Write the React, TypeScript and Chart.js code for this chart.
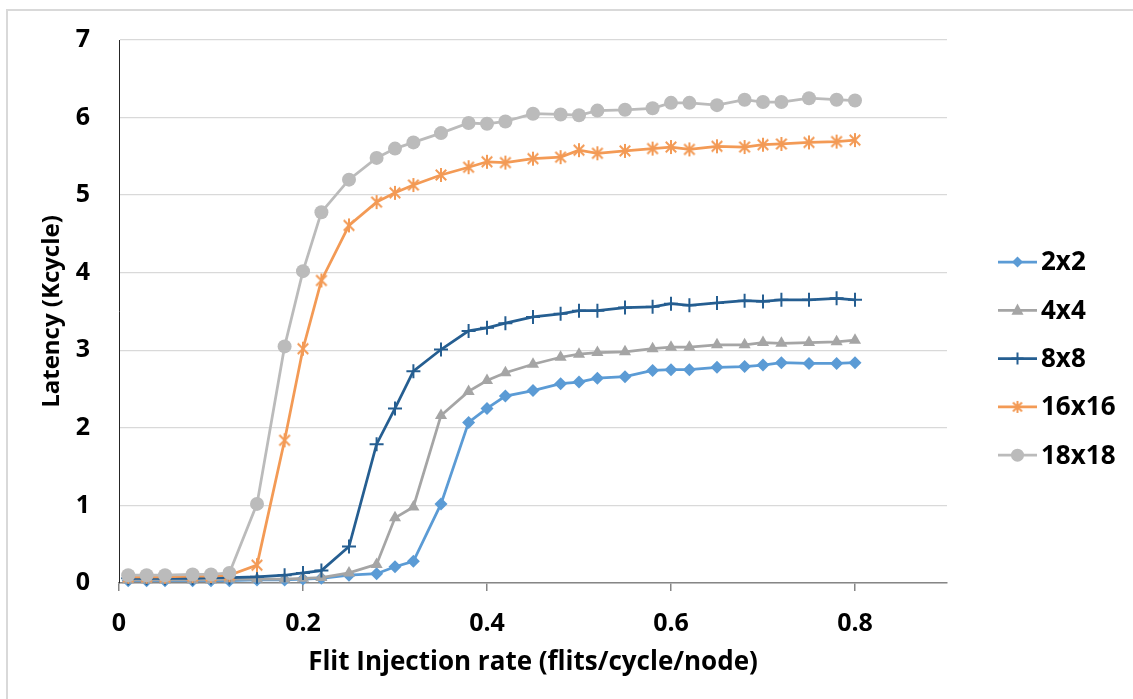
import React, { useEffect, useRef } from 'react';
import { Chart, registerables } from 'chart.js';

Chart.register(...registerables);

const FONT = "'Open Sans', 'DejaVu Sans', sans-serif";

const seriesNames = ['2x2', '4x4', '8x8', '16x16', '18x18'];
const seriesColors = ['#5B9BD5', '#A5A5A5', '#255E91', '#F39A55', '#BBBBBB'];

const injectionRates = [0.01, 0.03, 0.05, 0.08, 0.1, 0.12, 0.15, 0.18, 0.2, 0.22, 0.25, 0.28, 0.3, 0.32, 0.35, 0.38, 0.4, 0.42, 0.45, 0.48, 0.5, 0.52, 0.55, 0.58, 0.6, 0.62, 0.65, 0.68, 0.7, 0.72, 0.75, 0.78, 0.8];

const latency2x2 = [0.03, 0.03, 0.03, 0.03, 0.03, 0.03, 0.04, 0.04, 0.05, 0.06, 0.1, 0.12, 0.21, 0.28, 1.02, 2.07, 2.25, 2.41, 2.48, 2.57, 2.59, 2.64, 2.66, 2.74, 2.75, 2.75, 2.78, 2.79, 2.81, 2.84, 2.83, 2.83, 2.84];
const latency4x4 = [0.04, 0.04, 0.04, 0.04, 0.04, 0.05, 0.05, 0.05, 0.06, 0.07, 0.13, 0.24, 0.84, 0.98, 2.16, 2.47, 2.61, 2.71, 2.82, 2.91, 2.95, 2.97, 2.98, 3.02, 3.04, 3.04, 3.07, 3.07, 3.1, 3.09, 3.1, 3.11, 3.13];
const latency8x8 = [0.06, 0.06, 0.06, 0.06, 0.07, 0.07, 0.08, 0.1, 0.13, 0.16, 0.47, 1.79, 2.25, 2.73, 3.01, 3.25, 3.29, 3.35, 3.43, 3.47, 3.51, 3.51, 3.55, 3.56, 3.6, 3.58, 3.61, 3.64, 3.63, 3.65, 3.65, 3.67, 3.65];
const latency16x16 = [0.08, 0.08, 0.08, 0.09, 0.09, 0.1, 0.23, 1.84, 3.02, 3.9, 4.61, 4.91, 5.03, 5.13, 5.26, 5.36, 5.43, 5.42, 5.47, 5.49, 5.58, 5.54, 5.57, 5.6, 5.62, 5.59, 5.63, 5.62, 5.65, 5.66, 5.68, 5.69, 5.71];
const latency18x18 = [0.1, 0.1, 0.1, 0.11, 0.11, 0.13, 1.02, 3.05, 4.02, 4.78, 5.2, 5.48, 5.6, 5.68, 5.8, 5.93, 5.92, 5.95, 6.05, 6.04, 6.03, 6.09, 6.1, 6.12, 6.19, 6.19, 6.16, 6.23, 6.2, 6.2, 6.25, 6.23, 6.22];

const seriesValues = [latency2x2, latency4x4, latency8x8, latency16x16, latency18x18];

const xAxisTitle = 'Flit Injection rate (flits/cycle/node)';
const yAxisTitle = 'Latency (Kcycle)';

function makeAsterisk(color: string, r: number, lw: number) {
  const size = Math.ceil(r * 2 + 4);
  const c = document.createElement('canvas');
  c.width = size;
  c.height = size;
  const g = c.getContext('2d')!;
  g.strokeStyle = color;
  g.lineWidth = lw;
  const m = size / 2;
  const d = r * 0.75;
  g.beginPath();
  g.moveTo(m, m - r);
  g.lineTo(m, m + r);
  g.moveTo(m - d, m - d);
  g.lineTo(m + d, m + d);
  g.moveTo(m - d, m + d);
  g.lineTo(m + d, m - d);
  g.stroke();
  return c;
}

function drawMarker(ctx: CanvasRenderingContext2D, style: any, x: number, y: number, r: number, color: string) {
  ctx.save();
  ctx.fillStyle = color;
  ctx.strokeStyle = color;
  ctx.lineWidth = 2;
  if (style === 'circle') {
    ctx.beginPath();
    ctx.arc(x, y, r, 0, Math.PI * 2);
    ctx.fill();
  } else if (style === 'triangle') {
    ctx.beginPath();
    ctx.moveTo(x, y - r * 1.15);
    ctx.lineTo(x + r, y + r * 0.75);
    ctx.lineTo(x - r, y + r * 0.75);
    ctx.closePath();
    ctx.fill();
  } else if (style === 'rectRot') {
    ctx.beginPath();
    ctx.moveTo(x, y - r);
    ctx.lineTo(x + r, y);
    ctx.lineTo(x, y + r);
    ctx.lineTo(x - r, y);
    ctx.closePath();
    ctx.fill();
  } else if (style === 'cross') {
    ctx.beginPath();
    ctx.moveTo(x, y - r);
    ctx.lineTo(x, y + r);
    ctx.moveTo(x - r, y);
    ctx.lineTo(x + r, y);
    ctx.stroke();
  } else if (style instanceof HTMLCanvasElement) {
    ctx.drawImage(style, x - style.width / 2, y - style.height / 2);
  }
  ctx.restore();
}

const framePlugin = {
  id: 'frame',
  beforeDraw(chart: any) {
    const ctx = chart.ctx;
    ctx.save();
    ctx.fillStyle = '#ffffff';
    ctx.fillRect(0, 0, chart.width, chart.height);
    ctx.strokeStyle = '#D9D9D9';
    ctx.lineWidth = 2;
    ctx.strokeRect(7, 10, chart.width + 20, chart.height + 20);
    ctx.restore();
  },
};

const sideLegendPlugin = {
  id: 'sideLegend',
  afterDraw(chart: any) {
    const ctx = chart.ctx;
    chart.data.datasets.forEach((ds: any, i: number) => {
      const y = 262 + i * 48.3;
      ctx.save();
      ctx.strokeStyle = ds.borderColor;
      ctx.lineWidth = 2.75;
      ctx.beginPath();
      ctx.moveTo(998, y);
      ctx.lineTo(1037, y);
      ctx.stroke();
      drawMarker(ctx, ds.legendMarker, 1017.5, y, ds.legendRadius, ds.borderColor);
      ctx.fillStyle = '#000000';
      ctx.font = `bold 26px ${FONT}`;
      ctx.textBaseline = 'middle';
      ctx.textAlign = 'left';
      ctx.fillText(ds.label, 1041, y + 1);
      ctx.restore();
    });
  },
};

export default function App() {
  const canvasRef = useRef<HTMLCanvasElement | null>(null);

  useEffect(() => {
    if (!canvasRef.current) return;
    const starPoint = makeAsterisk(seriesColors[3], 7, 2);
    const starLegend = makeAsterisk(seriesColors[3], 6, 2);
    const styles: any[] = ['rectRot', 'triangle', 'cross', starPoint, 'circle'];
    const legendStyles: any[] = ['rectRot', 'triangle', 'cross', starLegend, 'circle'];
    const radii = [6.5, 7, 7, 7, 7];
    const legendRadii = [5.5, 6, 6, 6, 6.5];

    const datasets = seriesNames.map((name, i) => ({
      label: name,
      data: injectionRates.map((x, j) => ({ x, y: seriesValues[i][j] })),
      borderColor: seriesColors[i],
      backgroundColor: seriesColors[i],
      pointBackgroundColor: seriesColors[i],
      pointBorderColor: seriesColors[i],
      pointBorderWidth: i === 2 ? 2 : 0,
      borderWidth: 2.75,
      pointStyle: styles[i],
      pointRadius: radii[i],
      pointHoverRadius: radii[i],
      legendMarker: legendStyles[i],
      legendRadius: legendRadii[i],
      order: seriesNames.length - i,
      clip: false,
      tension: 0,
    }));

    const chart = new Chart(canvasRef.current, {
      type: 'line',
      data: { datasets: datasets as any },
      plugins: [framePlugin, sideLegendPlugin],
      options: {
        animation: false,
        responsive: false,
        layout: { padding: { top: 40, right: 186, left: 0, bottom: 0 } },
        plugins: {
          legend: { display: false },
          tooltip: { enabled: false },
        },
        scales: {
          x: {
            type: 'linear',
            min: 0,
            max: 0.9,
            afterFit: (scale: any) => {
              scale.height = 116;
            },
            ticks: {
              stepSize: 0.2,
              includeBounds: false,
              color: '#000000',
              padding: 18,
              maxRotation: 0,
              font: { family: FONT, size: 25, weight: 'bold' },
              callback: (v: any) => String(+Number(v).toFixed(1)),
            },
            grid: {
              display: true,
              drawOnChartArea: false,
              drawTicks: true,
              tickLength: 8,
              color: '#868686',
              lineWidth: 1.5,
            },
            border: { display: true, color: '#868686', width: 1.5 },
            title: {
              display: true,
              text: xAxisTitle,
              color: '#000000',
              font: { family: FONT, size: 26, weight: 'bold' },
              padding: { top: 0, bottom: 20.4 },
            },
          },
          y: {
            type: 'linear',
            min: 0,
            max: 7,
            afterFit: (scale: any) => {
              scale.width = 119;
            },
            ticks: {
              stepSize: 1,
              color: '#000000',
              padding: 10,
              font: { family: FONT, size: 25, weight: 'bold' },
            },
            grid: {
              display: true,
              drawTicks: true,
              tickLength: 19,
              tickColor: 'rgba(0,0,0,0)',
              color: '#D9D9D9',
              lineWidth: 1.3,
            },
            border: { display: true, color: '#262626', width: 1 },
            title: {
              display: true,
              text: yAxisTitle,
              color: '#000000',
              font: { family: FONT, size: 24, weight: 'bold' },
              padding: { top: 37.6, bottom: 0 },
            },
          },
        },
      } as any,
    });
    return () => chart.destroy();
  }, []);

  return (
    <div style={{ position: 'absolute', left: 0, top: 0, width: 1133, height: 699 }}>
      <canvas ref={canvasRef} width={1133} height={699} style={{ display: 'block' }} />
    </div>
  );
}
